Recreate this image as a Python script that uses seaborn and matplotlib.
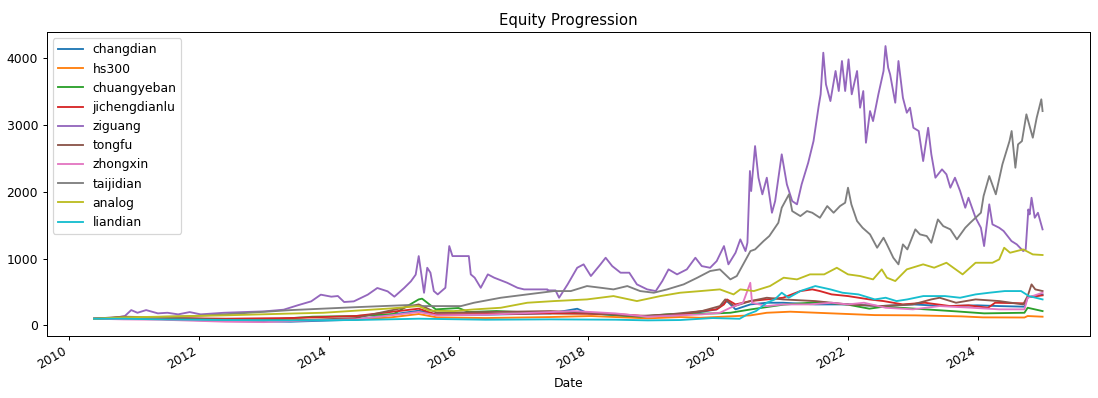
import matplotlib
matplotlib.use("Agg")
import matplotlib.pyplot as plt
import matplotlib.dates as mdates
import pandas as pd
import seaborn as sns

# series names, in legend order
names = ['changdian', 'hs300', 'chuangyeban', 'jichengdianlu', 'ziguang',
         'tongfu', 'zhongxin', 'taijidian', 'analog', 'liandian']

# values (equity, start = 100)
changdian_dates = ['2010-05-21', '2010-11-01', '2011-06-01', '2012-06-01', '2013-06-01', '2014-06-01',
                   '2015-05-22', '2015-09-01', '2016-06-01', '2017-06-01', '2017-10-30', '2018-01-01',
                   '2018-10-01', '2019-06-01', '2019-12-24', '2020-02-20', '2020-04-08', '2020-07-01',
                   '2020-10-01', '2021-01-01', '2021-07-01', '2022-01-01', '2022-07-01', '2023-01-01',
                   '2023-07-01', '2024-01-01', '2024-05-01', '2024-09-20', '2024-10-08', '2024-12-31']
changdian_vals = [100, 110, 95, 65, 55, 85, 220, 160, 160, 180, 249, 180,
                  130, 150, 240, 364, 240, 314, 339, 339, 314, 314, 289, 314,
                  289, 300, 289, 280, 420, 460]

hs300_dates = ['2010-05-21', '2010-11-01', '2011-06-01', '2012-06-01', '2013-06-01', '2014-06-01',
               '2014-12-16', '2015-05-22', '2015-09-01', '2016-06-01', '2017-06-01', '2018-01-15',
               '2018-12-01', '2019-06-01', '2019-09-24', '2020-07-01', '2020-10-01', '2021-02-10',
               '2021-10-01', '2022-06-01', '2023-01-15', '2023-10-01', '2024-01-30', '2024-09-20',
               '2024-10-08', '2024-12-31']
hs300_vals = [100, 105, 95, 85, 85, 85, 120, 170, 120, 110, 125, 140,
              105, 125, 114, 150, 189, 205, 180, 154, 150, 135, 120, 118,
              140, 130]

chuangyeban_dates = ['2010-05-21', '2010-11-01', '2011-06-01', '2012-11-28', '2013-10-01', '2014-06-01',
                     '2015-01-01', '2015-05-22', '2015-06-10', '2015-08-26', '2016-01-01', '2016-02-28',
                     '2016-08-01', '2017-06-01', '2018-01-15', '2018-10-19', '2019-04-08', '2019-12-24',
                     '2020-03-10', '2020-07-05', '2021-01-01', '2021-07-20', '2022-01-01', '2022-05-01',
                     '2022-07-20', '2023-01-15', '2023-09-01', '2024-02-06', '2024-09-20', '2024-10-08',
                     '2024-12-31']
chuangyeban_vals = [100, 120, 95, 75, 130, 140, 170, 389, 400, 240, 260, 200,
                    215, 180, 180, 130, 170, 180, 189, 240, 310, 349, 310, 250,
                    280, 250, 210, 180, 189, 264, 214]

jichengdianlu_dates = ['2010-05-21', '2010-11-01', '2011-06-01', '2012-06-01', '2013-06-01', '2014-06-01',
                       '2015-05-22', '2015-08-26', '2016-06-01', '2017-06-01', '2018-06-01', '2018-12-01',
                       '2019-06-01', '2019-10-01', '2019-12-24', '2020-02-03', '2020-02-20', '2020-04-08',
                       '2020-07-01', '2020-10-01', '2021-01-01', '2021-04-08', '2021-06-14', '2021-07-27',
                       '2021-10-01', '2022-01-01', '2022-05-01', '2022-07-20', '2022-11-06', '2023-03-10',
                       '2023-07-31', '2023-11-10', '2024-02-28', '2024-04-08', '2024-09-20', '2024-10-08',
                       '2024-12-31']
jichengdianlu_vals = [100, 115, 110, 100, 110, 140, 250, 165, 170, 180, 170, 139,
                      165, 214, 240, 314, 389, 314, 364, 389, 414, 514, 539, 514,
                      464, 439, 389, 364, 314, 339, 289, 300, 264, 339, 330, 420,
                      450]

ziguang_dates = ['2010-05-21', '2010-09-01', '2010-11-10', '2010-12-16', '2011-01-20', '2011-03-10',
                 '2011-05-15', '2011-07-08', '2011-09-06', '2011-11-10', '2012-01-11', '2012-05-22',
                 '2012-09-13', '2013-01-04', '2013-04-22', '2013-07-09', '2013-09-24', '2013-11-17',
                 '2014-01-15', '2014-02-21', '2014-03-28', '2014-05-22', '2014-08-08', '2014-10-01',
                 '2014-11-28', '2015-01-05', '2015-03-01', '2015-04-08', '2015-05-05', '2015-05-22',
                 '2015-06-21', '2015-07-09', '2015-07-27', '2015-08-15', '2015-09-06', '2015-10-19',
                 '2015-11-10', '2015-11-28', '2016-02-28', '2016-03-10', '2016-04-01', '2016-05-05',
                 '2016-06-14', '2016-07-20', '2016-10-01', '2016-11-28', '2017-01-04', '2017-05-15',
                 '2017-05-17', '2017-06-30', '2017-07-20', '2017-09-06', '2017-10-30', '2017-12-05',
                 '2018-01-15', '2018-03-10', '2018-04-08', '2018-05-15', '2018-07-01', '2018-08-19',
                 '2018-10-01', '2018-11-28', '2019-01-15', '2019-02-21', '2019-03-28', '2019-05-15',
                 '2019-07-09', '2019-08-26', '2019-10-01', '2019-11-17', '2019-12-24', '2020-02-03',
                 '2020-02-28', '2020-04-08', '2020-05-05', '2020-06-03', '2020-06-14', '2020-06-28',
                 '2020-07-05', '2020-07-27', '2020-08-15', '2020-09-06', '2020-10-01', '2020-10-30',
                 '2020-11-17', '2020-12-24', '2021-01-22', '2021-02-21', '2021-03-20', '2021-04-15',
                 '2021-05-22', '2021-06-21', '2021-07-20', '2021-07-31', '2021-08-15', '2021-08-30',
                 '2021-09-24', '2021-10-23', '2021-11-10', '2021-11-28', '2021-12-16', '2022-01-04',
                 '2022-01-22', '2022-02-21', '2022-03-10', '2022-03-28', '2022-04-12', '2022-05-05',
                 '2022-05-22', '2022-06-21', '2022-07-20', '2022-07-31', '2022-08-15', '2022-08-26',
                 '2022-09-24', '2022-10-12', '2022-11-06', '2022-11-28', '2022-12-16', '2023-01-04',
                 '2023-02-03', '2023-02-28', '2023-03-28', '2023-04-15', '2023-05-08', '2023-06-14',
                 '2023-07-09', '2023-07-31', '2023-08-26', '2023-09-24', '2023-10-23', '2023-11-10',
                 '2023-12-20', '2024-01-19', '2024-02-06', '2024-03-06', '2024-03-24', '2024-05-01',
                 '2024-05-26', '2024-07-09', '2024-08-08', '2024-09-13', '2024-09-27', '2024-10-12',
                 '2024-10-19', '2024-10-30', '2024-11-17', '2024-12-05', '2024-12-31']
ziguang_vals = [100, 108, 140, 229, 189, 229,
                180, 189, 165, 199, 165, 189,
                200, 210, 235, 300, 360, 460,
                430, 440, 350, 360, 460, 560,
                510, 430, 560, 660, 760, 1038,
                488, 863, 789, 514, 464, 563,
                1188, 1038, 1038, 764, 714, 563,
                764, 714, 638, 563, 539, 539,
                524, 524, 414, 614, 863, 914,
                739, 914, 1013, 888, 789, 789,
                614, 539, 514, 664, 839, 764,
                839, 1013, 888, 863, 963, 1188,
                914, 1088, 1288, 1113, 1238, 2312,
                2012, 2686, 2212, 1963, 2212, 1687,
                1862, 2562, 2112, 1862, 1813, 2112,
                2436, 2761, 3285, 3461, 4084, 3610,
                3360, 3810, 3510, 3960, 3510, 3985,
                3461, 3810, 3260, 3510, 2736, 3210,
                3060, 3461, 3810, 4184, 3860, 3760,
                3335, 3960, 3410, 3185, 3260, 2960,
                2911, 2461, 2960, 2562, 2212, 2337,
                2262, 2062, 2212, 2012, 1762, 1912,
                1612, 1462, 1188, 1813, 1513, 1462,
                1413, 1263, 1213, 1113, 1138, 1737,
                1662, 1912, 1612, 1687, 1438]

tongfu_dates = ['2010-05-21', '2010-11-01', '2011-06-01', '2012-06-01', '2013-06-01', '2014-06-01',
                '2015-05-22', '2015-07-20', '2015-09-01', '2016-06-01', '2017-06-01', '2018-01-01',
                '2018-10-01', '2019-04-01', '2019-10-01', '2020-01-11', '2020-02-10', '2020-04-01',
                '2020-07-01', '2020-10-01', '2021-01-01', '2021-07-01', '2022-01-01', '2022-07-01',
                '2023-01-01', '2023-04-15', '2023-06-01', '2023-09-01', '2023-12-20', '2024-05-01',
                '2024-09-13', '2024-10-08', '2024-10-30', '2024-11-20', '2024-12-31']
tongfu_vals = [100, 130, 120, 85, 70, 110, 314, 240, 189, 199, 214, 189,
               139, 165, 214, 289, 389, 289, 364, 414, 389, 364, 314, 289,
               314, 389, 414, 339, 389, 364, 314, 439, 614, 539, 514]

zhongxin_dates = ['2010-05-21', '2010-11-01', '2011-06-01', '2012-06-01', '2013-01-01', '2013-10-01',
                  '2014-06-01', '2015-05-22', '2015-09-01', '2016-06-01', '2017-10-15', '2018-06-01',
                  '2018-12-01', '2019-06-01', '2019-10-01', '2020-01-11', '2020-03-10', '2020-05-20',
                  '2020-06-30', '2020-07-10', '2020-10-01', '2021-01-01', '2021-06-01', '2021-10-01',
                  '2022-01-01', '2022-04-01', '2022-08-01', '2023-01-01', '2023-06-01', '2023-12-01',
                  '2024-05-01', '2024-09-20', '2024-10-08', '2024-12-31']
zhongxin_vals = [100, 90, 85, 55, 49, 75, 90, 200, 150, 160, 214, 180,
                 130, 150, 165, 189, 264, 339, 638, 339, 289, 314, 314, 339,
                 314, 339, 264, 240, 289, 264, 240, 240, 414, 489]

taijidian_dates = ['2010-05-21', '2010-12-01', '2011-11-17', '2012-05-22', '2013-06-01', '2014-06-14',
                   '2015-03-20', '2015-06-03', '2016-01-15', '2016-03-28', '2016-08-26', '2017-01-22',
                   '2017-06-21', '2017-09-24', '2017-12-24', '2018-03-10', '2018-05-22', '2018-08-08',
                   '2018-10-19', '2019-01-04', '2019-03-20', '2019-06-21', '2019-09-06', '2019-11-17',
                   '2020-01-11', '2020-03-10', '2020-04-15', '2020-07-01', '2020-07-27', '2020-09-13',
                   '2020-10-15', '2020-12-05', '2020-12-24', '2021-02-03', '2021-02-21', '2021-04-08',
                   '2021-05-15', '2021-06-14', '2021-07-27', '2021-09-06', '2021-10-12', '2021-11-17',
                   '2021-12-16', '2022-01-01', '2022-01-20', '2022-02-21', '2022-03-24', '2022-05-05',
                   '2022-06-14', '2022-07-20', '2022-08-08', '2022-09-13', '2022-10-12', '2022-11-06',
                   '2022-12-01', '2023-01-15', '2023-02-10', '2023-03-20', '2023-04-15', '2023-05-22',
                   '2023-06-21', '2023-07-31', '2023-09-06', '2023-10-23', '2023-11-20', '2024-01-19',
                   '2024-02-03', '2024-03-06', '2024-04-12', '2024-05-19', '2024-06-28', '2024-07-10',
                   '2024-07-31', '2024-08-15', '2024-09-06', '2024-10-01', '2024-11-06', '2024-11-28',
                   '2024-12-24', '2024-12-31']
taijidian_vals = [100, 115, 139, 165, 229, 274,
                  304, 289, 289, 339, 414, 464,
                  514, 514, 589, 564, 539, 589,
                  514, 489, 539, 614, 714, 814,
                  839, 689, 739, 1113, 1138, 1263,
                  1338, 1537, 1762, 1963, 1712, 1637,
                  1712, 1687, 1612, 1787, 1687, 1787,
                  1837, 2062, 1812, 1563, 1462, 1363,
                  1163, 1313, 1213, 1013, 914, 1213,
                  1138, 1438, 1363, 1338, 1238, 1587,
                  1487, 1438, 1288, 1462, 1537, 1687,
                  1937, 2237, 1963, 2412, 2761, 2911,
                  2361, 2711, 2760, 3161, 2811, 3110,
                  3386, 3210]

analog_dates = ['2010-05-21', '2010-11-01', '2011-09-01', '2012-05-22', '2013-05-01', '2013-12-01',
                '2014-06-01', '2014-12-16', '2015-05-22', '2015-07-20', '2015-12-05', '2016-03-28',
                '2016-08-26', '2017-01-22', '2017-06-21', '2017-12-24', '2018-05-22', '2018-10-01',
                '2019-02-10', '2019-06-01', '2019-09-24', '2020-01-11', '2020-03-28', '2020-05-05',
                '2020-07-20', '2020-10-19', '2021-01-04', '2021-03-20', '2021-06-01', '2021-08-20',
                '2021-10-30', '2022-01-01', '2022-03-10', '2022-05-22', '2022-07-10', '2022-08-08',
                '2022-09-24', '2022-11-28', '2023-02-28', '2023-05-01', '2023-07-09', '2023-10-08',
                '2023-12-20', '2024-03-24', '2024-05-01', '2024-05-29', '2024-07-01', '2024-09-13',
                '2024-11-06', '2024-12-31']
analog_vals = [100, 120, 135, 150, 175, 189,
               220, 254, 289, 220, 214, 239,
               264, 339, 364, 389, 439, 364,
               439, 489, 514, 539, 464, 539,
               514, 589, 714, 689, 764, 764,
               863, 764, 739, 689, 839, 714,
               664, 839, 914, 864, 938, 764,
               938, 938, 988, 1163, 1088, 1138,
               1063, 1054]

liandian_dates = ['2010-05-21', '2010-11-01', '2011-06-01', '2012-06-01', '2013-06-01', '2014-06-01',
                  '2015-05-22', '2016-06-01', '2017-06-01', '2018-06-01', '2018-12-01', '2019-06-01',
                  '2019-12-01', '2020-05-01', '2020-06-14', '2020-08-01', '2020-10-01', '2020-11-15',
                  '2020-12-24', '2021-02-01', '2021-04-08', '2021-07-01', '2021-09-24', '2021-12-01',
                  '2022-03-01', '2022-06-01', '2022-08-01', '2022-10-01', '2022-12-01', '2023-03-01',
                  '2023-07-01', '2023-09-24', '2023-12-20', '2024-03-06', '2024-06-01', '2024-09-01',
                  '2024-10-15', '2024-12-31']
liandian_vals = [100, 100, 90, 80, 75, 80, 100, 85, 90, 85, 75, 80,
                 110, 99, 165, 214, 339, 389, 489, 414, 514, 589, 539, 489,
                 464, 389, 414, 364, 389, 439, 439, 414, 464, 489, 514, 514,
                 439, 389]

series = {
    'changdian': (changdian_dates, changdian_vals),
    'hs300': (hs300_dates, hs300_vals),
    'chuangyeban': (chuangyeban_dates, chuangyeban_vals),
    'jichengdianlu': (jichengdianlu_dates, jichengdianlu_vals),
    'ziguang': (ziguang_dates, ziguang_vals),
    'tongfu': (tongfu_dates, tongfu_vals),
    'zhongxin': (zhongxin_dates, zhongxin_vals),
    'taijidian': (taijidian_dates, taijidian_vals),
    'analog': (analog_dates, analog_vals),
    'liandian': (liandian_dates, liandian_vals),
}

# long-form table for seaborn
frames = []
for name in names:
    d, v = series[name]
    frames.append(pd.DataFrame({'Date': pd.to_datetime(d), 'equity': v, 'stock': name}))
df = pd.concat(frames, ignore_index=True)

# the original was rendered at a slightly lower dpi, so text looks smaller
DPI = 89
fig, ax = plt.subplots(figsize=(1098 / DPI, 398 / DPI), dpi=DPI)
fig.subplots_adjust(left=0.0425, right=0.9927, bottom=0.156, top=0.919)

sns.lineplot(data=df, x='Date', y='equity', hue='stock', hue_order=names,
             palette='tab10', linewidth=1.5, ax=ax)

ax.set_title('Equity Progression')
ax.set_xlabel('Date')
ax.set_ylabel('')
ax.xaxis.set_major_locator(mdates.YearLocator(2))
ax.xaxis.set_major_formatter(mdates.DateFormatter('%Y'))
plt.setp(ax.get_xticklabels(), rotation=30, ha='right')
sns.move_legend(ax, 'upper left', title=None)

fig.savefig('out.png', dpi=DPI)
